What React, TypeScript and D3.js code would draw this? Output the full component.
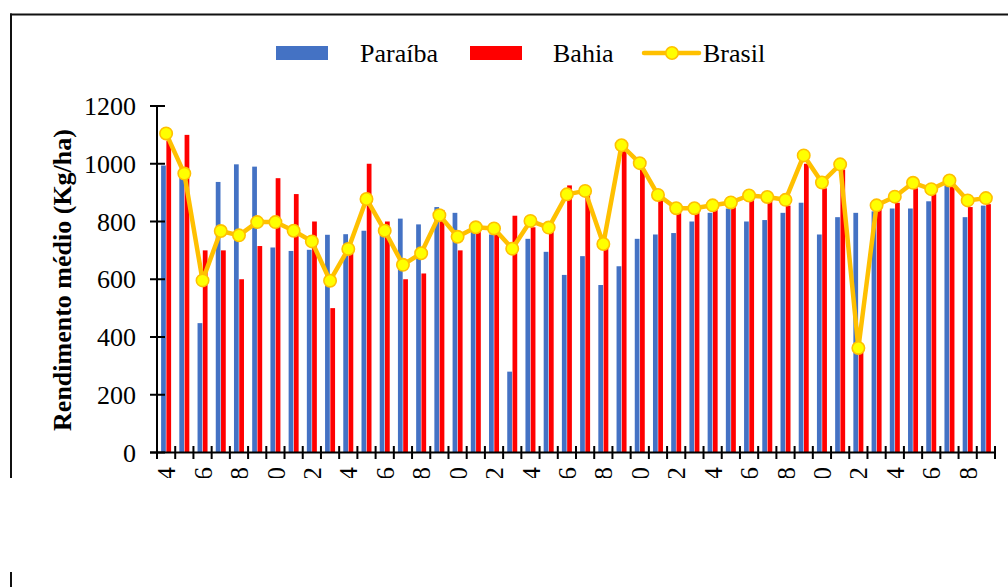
import React from "react";
import * as d3 from "d3";

const years: string[] = d3.range(1974, 2020).map((y) => String(y));
const seriesNames: string[] = ["Paraíba", "Bahia", "Brasil"];
const paraiba: number[] = [994,960,448,937,998,990,710,698,702,754,756,768,760,810,790,850,830,765,755,280,740,695,615,680,580,645,740,755,760,800,830,845,800,805,830,865,755,815,830,835,845,845,870,925,815,855];
const bahia: number[] = [1080,1100,700,700,600,715,950,895,800,500,690,1000,800,600,620,840,700,770,760,820,780,770,925,915,730,1050,980,875,830,830,840,850,880,870,855,1000,915,980,360,845,865,915,895,920,850,860];
const brasil: number[] = [1105,966,596,767,752,798,798,768,731,595,705,878,768,650,690,822,747,780,776,706,802,779,894,906,722,1064,1002,892,846,846,856,866,890,885,875,1029,935,998,362,856,886,934,912,942,873,881];
const yTicks: number[] = [0, 200, 400, 600, 800, 1000, 1200];

const W = 1008;
const H = 587;
const FONT = "'Times New Roman', 'Liberation Serif', serif";
const BLUE = "#4472C4";
const RED = "#FF0000";
const GOLD = "#FFC000";
const YEL = "#FFFF00";

export default function App() {
  const x = d3.scaleBand<string>().domain(years).range([157, 995]).paddingInner(0).paddingOuter(0);
  const y = d3.scaleLinear().domain([0, 1200]).range([452.5, 106]);
  const x1 = d3.scaleBand<string>().domain(["Paraíba", "Bahia"]).range([-5, 5]).paddingInner(0.1);
  const cx = (yr: string) => (x(yr) as number) + x.bandwidth() / 2;
  const line = d3
    .line<number>()
    .x((_, i) => cx(years[i]))
    .y((d) => y(d));

  const tickEdges = d3.range(years.length + 1).map((i) => 157 + i * x.bandwidth());

  return (
    <svg
      width={W}
      height={H}
      style={{ position: "absolute", left: 0, top: 0, background: "#fff" }}
      fontFamily={FONT}
    >
      <defs>
        <clipPath id="cut">
          <rect x={0} y={0} width={W} height={478} />
        </clipPath>
      </defs>
      <rect x={0} y={0} width={W} height={H} fill="#fff" />
      {/* border */}
      <line x1={10} x2={W} y1={14.5} y2={14.5} stroke="#111" strokeWidth={2} />
      <line x1={11} x2={11} y1={13.5} y2={478} stroke="#111" strokeWidth={2} />
      <line x1={11} x2={11} y1={572} y2={H} stroke="#111" strokeWidth={2} />

      {/* bars */}
      <g>
        {years.map((yr, i) => (
          <g key={yr}>
            <rect
              x={cx(yr) + (x1("Paraíba") as number)}
              y={y(paraiba[i])}
              width={x1.bandwidth()}
              height={y(0) - y(paraiba[i])}
              fill={BLUE}
            />
            <rect
              x={cx(yr) + (x1("Bahia") as number)}
              y={y(bahia[i])}
              width={x1.bandwidth()}
              height={y(0) - y(bahia[i])}
              fill={RED}
            />
          </g>
        ))}
      </g>

      {/* y axis */}
      <line x1={157} x2={157} y1={y(1200)} y2={y(0)} stroke="#000" strokeWidth={2} />
      {yTicks.map((t) => (
        <g key={t}>
          <line x1={150} x2={165} y1={y(t)} y2={y(t)} stroke="#000" strokeWidth={2} />
          <text x={136} y={y(t)} dy="0.35em" textAnchor="end" fontSize={26} fill="#000">
            {t}
          </text>
        </g>
      ))}

      {/* x axis */}
      <line x1={150} x2={995} y1={y(0)} y2={y(0)} stroke="#000" strokeWidth={2} />
      {tickEdges.map((tx, i) => (
        <line key={i} x1={tx} x2={tx} y1={446} y2={459} stroke="#000" strokeWidth={2} />
      ))}
      <g clipPath="url(#cut)">
        {years.map((yr, i) =>
          i % 2 === 0 ? (
            <text
              key={yr}
              transform={`translate(${cx(yr)},467) rotate(-90)`}
              dy="0.35em"
              textAnchor="end"
              fontSize={26}
              fill="#000"
            >
              {yr}
            </text>
          ) : null
        )}
      </g>

      {/* y title */}
      <text
        transform={`translate(71,280) rotate(-90)`}
        textAnchor="middle"
        fontSize={26}
        fontWeight="bold"
        fill="#000"
      >
        Rendimento médio (Kg/ha)
      </text>

      {/* Brasil line */}
      <path d={line(brasil) || ""} fill="none" stroke={GOLD} strokeWidth={4.5} strokeLinejoin="round" />
      {brasil.map((v, i) => (
        <circle key={i} cx={cx(years[i])} cy={y(v)} r={6.2} fill={YEL} stroke={GOLD} strokeWidth={1.6} />
      ))}

      {/* legend */}
      <rect x={276} y={46} width={52} height={14} fill={BLUE} />
      <text x={360} y={62} fontSize={26} fill="#000">{seriesNames[0]}</text>
      <rect x={470} y={46} width={52} height={14} fill={RED} />
      <text x={553} y={62} fontSize={26} fill="#000">{seriesNames[1]}</text>
      <line x1={644} x2={699} y1={53} y2={53} stroke={GOLD} strokeWidth={4.5} strokeLinecap="round" />
      <circle cx={672} cy={53} r={6.2} fill={YEL} stroke={GOLD} strokeWidth={1.6} />
      <text x={703} y={62} fontSize={26} fill="#000">{seriesNames[2]}</text>
    </svg>
  );
}
